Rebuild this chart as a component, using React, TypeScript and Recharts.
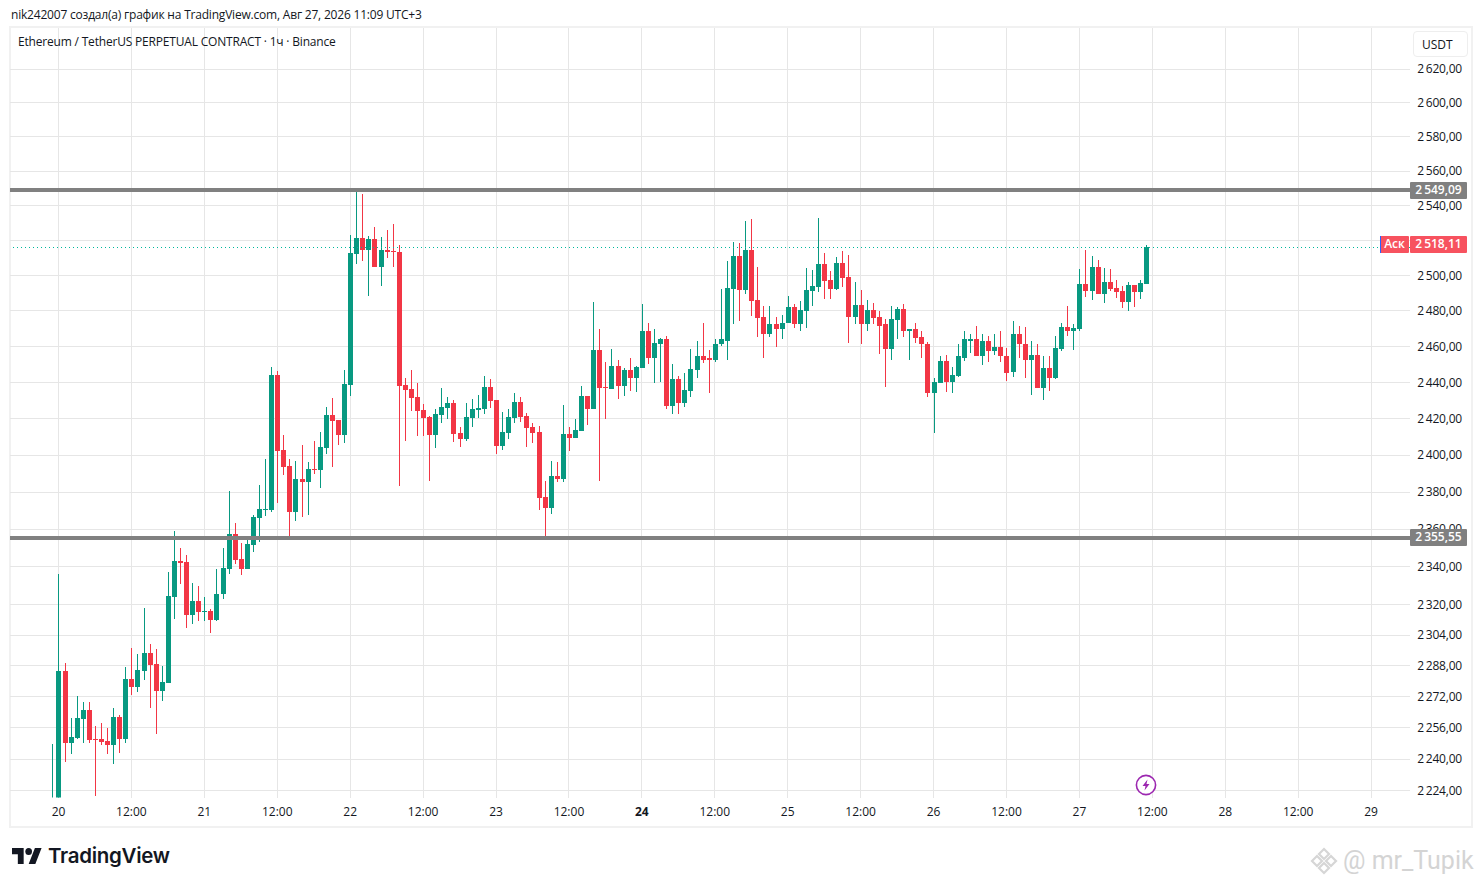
import { Bar, CartesianGrid, ComposedChart, ReferenceLine, XAxis, YAxis } from "recharts";

const UP = "#089981";
const DOWN = "#f23645";
const ASK = "#00b89c";
const TEXT = "#131722";
const GRID = "#e6e6e6";
const FONT = "'Open Sans', 'Noto Sans', sans-serif";

// hourly candles, first one is 19th 23:00
const opens = [
  2205, 2205, 2285.5, 2248.5, 2251, 2260.7, 2265.4, 2250.5, 2250.5, 2249.5, 2247, 2261.8, 2250.5, 2281.3, 2277.2, 2285.5, 2294.9, 2289.1, 2275.2, 2279.3, 2324.2,
  2343.3, 2342.8, 2314.3, 2322.1, 2316.4, 2316.9, 2312.1, 2325.8, 2339.1, 2357.7, 2344.4, 2339.1, 2351.8, 2366.3, 2370.5, 2370.2,
  2444.4, 2403, 2394.4, 2369.5, 2387.3, 2385.7, 2392.8, 2392.2, 2404.2, 2422.3, 2419.5, 2411.3, 2438.9, 2512.5, 2521.6, 2514.8, 2521, 2505.1, 2514.8, 2514.2,
  2513.6, 2438.9, 2436.6, 2432.2, 2425, 2421.1, 2411.3, 2422.3, 2426.1, 2428.9, 2412.4, 2409.1, 2420.6, 2425, 2425.6, 2437.8, 2430.5, 2405.2, 2412.4, 2420.6,
  2429.4, 2421.7, 2415.7, 2413, 2377.5, 2371.6, 2389, 2387.3, 2411.9, 2409.7, 2413.5, 2432.7, 2425.6, 2458.4, 2437.8, 2436.6, 2449.4, 2438.3, 2447.2, 2442.8,
  2448.3, 2469, 2453.4, 2461.7, 2464, 2427.2, 2442.2, 2428.9, 2435.5, 2447.2, 2455, 2453.4, 2452.8, 2461.2, 2463.4, 2492.6, 2511.3, 2492, 2514.8, 2486.4,
  2476.8, 2466.8, 2472.9, 2469.6, 2473.5, 2482.4, 2472.4, 2480.2, 2491.5, 2493.7, 2506.8, 2497.7, 2492.6, 2507.4, 2499.4, 2476.8, 2483.5, 2472.9, 2480.8, 2476.8,
  2472.4, 2458.9, 2475.2, 2481.3, 2469, 2469.6, 2465.6, 2461.7, 2434.4, 2440, 2452.2, 2440.5, 2443.9, 2453.9, 2463.4, 2464, 2455, 2463.4, 2457.8, 2460,
  2455, 2446.1, 2467.3, 2461.7, 2452.8, 2455.6, 2437.2, 2448.3, 2442.8, 2458.9, 2471.2, 2468.5, 2470.1, 2495.4, 2491.5, 2505.1, 2489.8, 2496.5, 2493.2, 2491.5,
  2485.2, 2494.8, 2490.9, 2495.4,
];

const highs = [
  2247.5, 2336.4, 2289.7, 2261.3, 2272.6, 2269.5, 2269.5, 2257.1, 2258.7, 2256.1, 2266.4, 2262.8, 2287.6, 2297.5, 2294.3, 2318.5, 2299.5, 2296.9, 2288.1, 2337.5, 2359.3,
  2350.2, 2346.5, 2331.6, 2330, 2324.2, 2317.9, 2339.1, 2350.2, 2380.8, 2363.6, 2352.9, 2354.5, 2367.9, 2384, 2398.2, 2448.8,
  2446.6, 2411.3, 2398.2, 2397.1, 2405.8, 2396.6, 2408, 2413, 2426.7, 2431.6, 2419.5, 2447.2, 2523.3, 2549.3, 2547, 2522.8, 2528, 2522.2, 2526.2, 2529.6,
  2517.6, 2442.8, 2447.2, 2439.9, 2428.3, 2421.7, 2425.6, 2437.2, 2432.2, 2430.5, 2415.7, 2428.9, 2431.1, 2433.3, 2443.9, 2442.2, 2430.5, 2424, 2425.6, 2434.4,
  2432.2, 2423.4, 2417.9, 2416.2, 2386.2, 2397.1, 2396.6, 2427.8, 2415.7, 2420.1, 2438.3, 2432.7, 2485.2, 2469.6, 2451.6, 2458.9, 2452.8, 2448.3, 2453.4, 2449.4,
  2484.1, 2473.5, 2470.1, 2465.1, 2466.2, 2450.5, 2443.9, 2445.5, 2458.9, 2463.4, 2473.5, 2458.4, 2464, 2492.6, 2508.5, 2519.3, 2518.8, 2531.4, 2532.6, 2505.1,
  2483, 2483, 2476.8, 2477.9, 2488.7, 2484.1, 2485.8, 2504.5, 2503.4, 2533.1, 2513.1, 2502.8, 2510.8, 2514.2, 2511.9, 2496.5, 2492, 2486.4, 2484.7, 2480.2,
  2475.7, 2483, 2482.4, 2484.1, 2470.1, 2473.5, 2469, 2462.8, 2442.8, 2454.5, 2455.6, 2448.8, 2461.2, 2469, 2467.3, 2471.8, 2467.3, 2466.2, 2467.3, 2468.5,
  2459.5, 2474.6, 2471.8, 2471.2, 2463.4, 2461.7, 2454.5, 2454.5, 2466.2, 2473.5, 2483, 2472.9, 2503.9, 2514.8, 2511.3, 2509.1, 2504.5, 2503.9, 2497.7, 2494.3,
  2496.5, 2494.8, 2497.7, 2517.6,
];

const lows = [
  2200, 2200, 2238.8, 2242.4, 2250.5, 2248, 2248.5, 2221.6, 2247, 2242.4, 2237.8, 2243.4, 2248.5, 2273.1, 2274.7, 2280.8, 2266.4, 2253.1, 2270, 2279.3, 2312.7,
  2331.1, 2308, 2310, 2311.6, 2311.6, 2305.3, 2311.6, 2323.2, 2336.4, 2341.7, 2335.9, 2339.1, 2348.1, 2353.5, 2367.4, 2369.5,
  2374.3, 2389.5, 2355.6, 2364.7, 2366.8, 2367.9, 2390.1, 2382.4, 2400.9, 2393.8, 2405.8, 2406.9, 2432.7, 2506.8, 2508.5, 2488.7, 2505.1, 2494.3, 2510.2, 2505.1,
  2383.5, 2408, 2424.5, 2410.8, 2410.8, 2386.2, 2404.2, 2417.9, 2420.1, 2407.4, 2404.7, 2408, 2415.7, 2420.6, 2422.8, 2426.1, 2400.9, 2403, 2409.1, 2417.9,
  2418.5, 2404.7, 2406.9, 2370.5, 2355.6, 2368.4, 2385.7, 2385.7, 2402.5, 2409.7, 2413.5, 2416.8, 2425.6, 2386.2, 2420.1, 2436.6, 2431.1, 2432.7, 2435.5, 2435,
  2448.3, 2450.5, 2440, 2440.5, 2425.6, 2422.8, 2422.8, 2426.7, 2432.2, 2442.8, 2451.1, 2434.4, 2451.6, 2460.6, 2452.8, 2472.9, 2474.6, 2489.8, 2477.4, 2465.6,
  2453.4, 2465.6, 2460, 2464, 2473.5, 2470.7, 2468.5, 2470.7, 2483, 2490.9, 2487, 2487, 2492, 2493.7, 2462.3, 2472.9, 2461.2, 2468.5, 2472.9, 2456.1,
  2437.8, 2452.8, 2464.5, 2465.6, 2452.8, 2462.3, 2453.4, 2432.2, 2412.4, 2440, 2435, 2434.4, 2443.3, 2452.2, 2456.7, 2455, 2450, 2451.6, 2455.6, 2451.6,
  2441.1, 2443.3, 2453.9, 2442.8, 2433.3, 2437.2, 2430.5, 2435.5, 2442.2, 2457.3, 2466.2, 2458.4, 2469, 2488.1, 2486.4, 2489.8, 2484.7, 2491.5, 2487.5, 2481.9,
  2480.2, 2482.4, 2487, 2495.4,
];

const closes = [
  2215, 2285.5, 2248.5, 2251.5, 2261.3, 2265.4, 2250, 2250, 2249, 2247, 2261.8, 2250.5, 2281.3, 2277.2, 2286, 2294.9, 2288.6, 2275.2, 2279.8, 2324.7, 2343.3,
  2342.2, 2314.3, 2322.1, 2316.4, 2316.9, 2312.1, 2325.8, 2339.6, 2357.7, 2343.8, 2339.1, 2352.4, 2366.8, 2371.1, 2371.1, 2444.4,
  2402.5, 2393.8, 2369.5, 2387.3, 2385.7, 2392.8, 2392.2, 2404.7, 2422.3, 2419, 2411.3, 2439.4, 2513.1, 2521.6, 2514.8, 2521, 2505.1, 2514.8, 2513.6, 2513.6,
  2438.3, 2436, 2431.6, 2424.5, 2420.6, 2411.3, 2422.8, 2426.7, 2428.9, 2411.9, 2409.1, 2421.2, 2425.6, 2426.1, 2437.8, 2430, 2405.2, 2413, 2421.2, 2429.4,
  2421.2, 2415.1, 2412.4, 2376.9, 2371.6, 2389, 2387.3, 2411.9, 2409.7, 2414, 2432.7, 2425.6, 2458.4, 2437.2, 2437.2, 2449.4, 2438.3, 2447.2, 2442.8, 2448.8,
  2469, 2453.4, 2462.3, 2464, 2427.2, 2442.2, 2428.9, 2436, 2447.7, 2455, 2452.8, 2452.8, 2461.7, 2464, 2493.2, 2511.3, 2492, 2514.8, 2485.8, 2476.3,
  2466.8, 2472.9, 2469.6, 2473.5, 2482.4, 2472.4, 2480.8, 2492, 2494.3, 2506.8, 2497.1, 2492.6, 2507.4, 2498.8, 2476.8, 2483.5, 2472.9, 2480.8, 2476.3, 2471.8,
  2458.9, 2475.7, 2481.3, 2468.5, 2469.6, 2465.1, 2461.2, 2434.4, 2440.5, 2452.2, 2440.5, 2444.4, 2454.5, 2464, 2464, 2455, 2463.4, 2457.8, 2460, 2454.5,
  2445.5, 2467.3, 2461.2, 2452.8, 2455.6, 2437.2, 2448.3, 2442.8, 2459.5, 2471.2, 2468.5, 2470.7, 2495.4, 2491.5, 2505.1, 2489.8, 2496.5, 2492.6, 2490.9, 2485.2,
  2494.8, 2490.9, 2496, 2516.5,
];

const yTicks = [2224, 2240, 2256, 2272, 2288, 2304, 2320, 2340, 2360, 2380, 2400, 2420, 2440, 2460, 2480, 2500, 2520, 2540, 2560, 2580, 2600, 2620];
const xTicks = [0, 12, 24, 36, 48, 60, 72, 84, 96, 108, 120, 132, 144, 156, 168, 180, 192, 204, 216];
const xLabels = ["20", "12:00", "21", "12:00", "22", "12:00", "23", "12:00", "24", "12:00", "25", "12:00", "26", "12:00", "27", "12:00", "28", "12:00", "29"];

const resistance = 2549.09;
const support = 2355.55;
const askLine = 2516.2;

const candles = opens.map((open, i) => ({
  hour: i - 1,
  open,
  high: highs[i],
  low: lows[i],
  close: closes[i],
}));

const formatPrice = (v: number) => {
  const s = v.toFixed(2).replace(".", ",");
  return s[0] + "\u2009" + s.slice(1);
};

// snapped to whole pixels so wicks stay crisp
const candleShape = (props: any) => {
  const { x, y, width, height, payload } = props;
  const top = Math.round(y);
  return (
    <rect
      x={Math.round(x)}
      y={top}
      width={width}
      height={Math.max(Math.round(y + height) - top, 1)}
      fill={payload.close >= payload.open ? UP : DOWN}
    />
  );
};

const XTick = ({ x, y, payload }: any) => {
  const i = xTicks.indexOf(payload.value);
  return (
    <text
      x={x}
      y={y + 10}
      textAnchor="middle"
      fontFamily={FONT}
      fontSize={12}
      fontWeight={xLabels[i] === "24" ? 700 : 400}
      fill={TEXT}
    >
      {xLabels[i]}
    </text>
  );
};

const YTick = ({ y, payload }: any) => (
  <text x={1462} y={y + 4} textAnchor="end" fontFamily={FONT} fontSize={12} letterSpacing={-0.2} fill={TEXT}>
    {formatPrice(payload.value)}
  </text>
);

const PriceTag = ({ top, height, left, width, bg, children }: any) => (
  <div
    style={{
      position: "absolute",
      top,
      left,
      width,
      height,
      lineHeight: height - 2 + "px",
      background: bg,
      color: "#fff",
      fontSize: 12,
      fontWeight: 600,
      textAlign: "center",
      borderRadius: 1,
    }}
  >
    {children}
  </div>
);

export default function App() {
  return (
    <div style={{ position: "absolute", left: 0, top: 0, width: 1481, height: 886, background: "#fff", fontFamily: FONT, color: TEXT, overflow: "hidden" }}>
      <div style={{ position: "absolute", left: 11, top: 7, fontSize: 12, lineHeight: "16px", letterSpacing: -0.2, whiteSpace: "nowrap" }}>
        nik242007 создал(а) график на TradingView.com, Авг 27, 2026 11:09 UTC+3
      </div>
      <div style={{ position: "absolute", left: 9, top: 26, width: 1460, height: 798, border: "2px solid #f1f1f1" }} />

      <ComposedChart
        width={1481}
        height={886}
        data={candles}
        margin={{ left: 10, right: 0, top: 27.5, bottom: 58.5 }}
        style={{ position: "absolute", left: 0, top: 0 }}
      >
        <CartesianGrid stroke={GRID} strokeWidth={1} shapeRendering="crispEdges" syncWithTicks />
        <XAxis
          dataKey="hour"
          type="number"
          domain={[-7.98, 222.4]}
          ticks={xTicks}
          tick={<XTick />}
          tickLine={false}
          axisLine={false}
          height={30}
          interval={0}
        />
        <XAxis xAxisId="wick" dataKey="hour" type="number" domain={[-7.98, 222.4]} hide />
        <YAxis
          orientation="right"
          width={71}
          scale="log"
          type="number"
          domain={[2220.6, 2644.9]}
          allowDataOverflow
          ticks={yTicks}
          tick={<YTick />}
          tickLine={false}
          axisLine={false}
          interval={0}
        />
        <Bar
          xAxisId="wick"
          dataKey={(d: any) => [d.low, d.high]}
          barSize={1}
          shape={candleShape}
          isAnimationActive={false}
        />
        <Bar
          dataKey={(d: any) => [Math.min(d.open, d.close), Math.max(d.open, d.close)]}
          barSize={5}
          shape={candleShape}
          isAnimationActive={false}
        />
        <ReferenceLine y={resistance} stroke="#808080" strokeWidth={4} shapeRendering="crispEdges" />
        <ReferenceLine y={support} stroke="#808080" strokeWidth={4} shapeRendering="crispEdges" />
        <ReferenceLine y={askLine} stroke={ASK} strokeWidth={1} strokeDasharray="1 3" shapeRendering="crispEdges" />
      </ComposedChart>

      <div style={{ position: "absolute", left: 18, top: 34, fontSize: 12, lineHeight: "16px", letterSpacing: -0.19, whiteSpace: "nowrap" }}>
        Ethereum / TetherUS PERPETUAL CONTRACT · 1ч · Binance
      </div>
      <div
        style={{
          position: "absolute",
          left: 1413,
          top: 31,
          width: 45,
          height: 24,
          paddingLeft: 8,
          lineHeight: "26px",
          border: "1px solid #eeeeee",
          borderRadius: 4,
          fontSize: 12,
          background: "#fff",
        }}
      >
        USDT
      </div>

      <PriceTag top={182} height={17} left={1410} width={57} bg="#808080">{formatPrice(resistance)}</PriceTag>
      <PriceTag top={529} height={17} left={1410} width={57} bg="#808080">{formatPrice(support)}</PriceTag>
      <PriceTag top={236} height={17} left={1380} width={29} bg="#f7525f">Аск</PriceTag>
      <div style={{ position: "absolute", left: 1380, top: 236, width: 1, height: 17, background: "#2962ff" }} />
      <PriceTag top={236} height={17} left={1410} width={57} bg="#f7525f">{formatPrice(2518.11)}</PriceTag>

      <svg width={24} height={24} style={{ position: "absolute", left: 1134, top: 773 }}>
        <circle cx={12} cy={12} r={9.6} fill="#fff" stroke="#9c27b0" strokeWidth={1.6} />
        <path d="M13.5 6.5 L8.5 13 L11.5 13 L10.5 17.5 L15.5 11 L12.5 11 Z" fill="#9c27b0" />
      </svg>

      <svg width={30} height={16} viewBox="0 4 36 18" preserveAspectRatio="none" style={{ position: "absolute", left: 12, top: 848 }}>
        <path d="M14 22H7V11H0V4h14v18zM28 22h-8l7.5-18h8L28 22z" fill="#131722" />
        <circle cx={20} cy={8} r={4} fill="#131722" />
      </svg>
      <div style={{ position: "absolute", left: 48, top: 841, fontFamily: "Inter, sans-serif", fontSize: 20.5, fontWeight: 600, lineHeight: "30px", letterSpacing: -0.3, whiteSpace: "nowrap" }}>
        TradingView
      </div>

      <svg width={28} height={28} viewBox="0 0 28 28" style={{ position: "absolute", left: 1310, top: 847 }}>
        <g fill="none" stroke="#d6d6d6" strokeWidth={2.2}>
          <path d="M14 2 L19 7 L14 12 L9 7 Z" />
          <path d="M7 9 L12 14 L7 19 L2 14 Z" />
          <path d="M21 9 L26 14 L21 19 L16 14 Z" />
          <path d="M14 16 L19 21 L14 26 L9 21 Z" />
        </g>
      </svg>
      <div style={{ position: "absolute", left: 1343, top: 845, fontFamily: "Roboto, sans-serif", fontSize: 25, lineHeight: "32px", color: "#d4d4d4", whiteSpace: "nowrap" }}>
        @ mr_Tupik
      </div>
    </div>
  );
}
